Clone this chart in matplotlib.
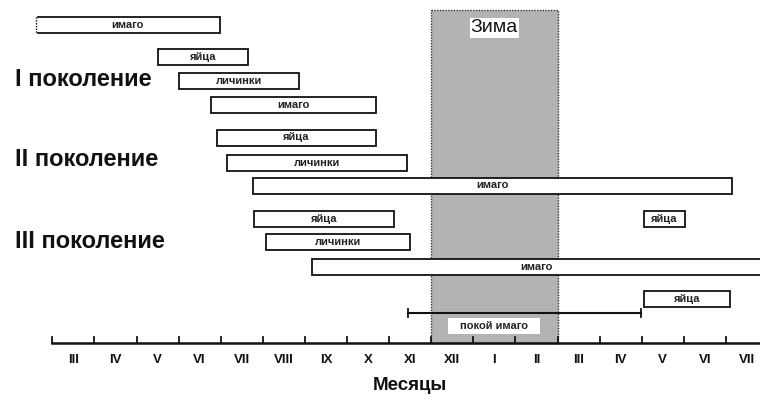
import matplotlib
matplotlib.use("Agg")
import matplotlib.pyplot as plt
from matplotlib.patches import Rectangle

plt.rcParams['font.family'] = ['Liberation Sans', 'DejaVu Sans']

# Month tick labels (III of year 1 ... VII of year 2)
months = ["III", "IV", "V", "VI", "VII", "VIII", "IX", "X", "XI",
          "XII", "I", "II", "III", "IV", "V", "VI", "VII"]

# Bars: label, start, end (in months from 1 March), row index
bar_labels = ["имаго", "яйца", "личинки", "имаго",
              "яйца", "личинки", "имаго",
              "яйца", "личинки", "имаго",
              "яйца", "яйца"]
bar_start = [-0.39, 2.51, 3.01, 3.77,
             3.91, 4.15, 4.77,
             4.79, 5.08, 6.17,
             14.05, 14.05]
bar_end = [3.98, 4.65, 5.87, 7.69,
           7.69, 8.42, 16.14,
           8.12, 8.50, 17.3,
           15.02, 16.10]
bar_row = [0, 1, 2, 3, 4, 5, 6, 7, 8, 9, 7, 10]

generations = ["I поколение", "II поколение", "III поколение"]
winter = (9, 12)
rest_label = "покой имаго"
rest_span = (8.45, 13.98)

# layout (pixel rows)
row_y = [24.5, 56.5, 81, 105, 137.5, 163, 185.5, 218.5, 242, 266.5, 298.5]
bar_h = 16
gen_y = [80, 160, 242]
x0_px, dx_px = 52.3, 42.1
W, H = 760, 396

fig = plt.figure(figsize=(W / 100, H / 100), dpi=100)
ax = fig.add_axes([0, 0, 1, 1])
ax.set_xlim(-x0_px / dx_px, (W - x0_px) / dx_px)
ax.set_ylim(H, 0)
ax.axis('off')

axis_y = 343
# winter region
ax.add_patch(Rectangle((winter[0], 10), winter[1] - winter[0], axis_y - 10,
                       facecolor='#b3b3b3', edgecolor='#333333', lw=1.0,
                       linestyle=(0, (1, 1)), zorder=1))
ax.text((winter[0] + winter[1]) / 2, 28, "Зима", ha='center', va='center',
        fontsize=14, color='#111111', zorder=5,
        bbox=dict(facecolor='white', edgecolor='none', pad=0.8))

# bars
for lab, s, e, r in zip(bar_labels, bar_start, bar_end, bar_row):
    y = row_y[r]
    ax.add_patch(Rectangle((s, y - bar_h / 2), e - s, bar_h, facecolor='white',
                           edgecolor='#111111', lw=1.3, zorder=3))
    xe = min(e, ax.get_xlim()[1])
    ax.text((s + xe) / 2, y, lab, ha='center', va='center', fontsize=8,
            fontweight='bold', color='#222222', zorder=4)

# dotted left edge of first bar (continuing from previous year)
ax.plot([bar_start[0], bar_start[0]], [row_y[0] - bar_h / 2, row_y[0] + bar_h / 2],
        color='white', lw=1.6, zorder=3.5)
ax.plot([bar_start[0], bar_start[0]], [row_y[0] - bar_h / 2, row_y[0] + bar_h / 2],
        color='#111111', lw=1.0, linestyle=(0, (1, 1)), zorder=3.6)

# rest period line
ry = 313
ax.plot(rest_span, [ry, ry], color='#111111', lw=1.5, zorder=4)
for xv in rest_span:
    ax.plot([xv, xv], [ry - 4, ry + 4], color='#111111', lw=1.3, zorder=4)
bx0, bx1 = (448 - x0_px) / dx_px, (540 - x0_px) / dx_px
ax.add_patch(Rectangle((bx0, 318), bx1 - bx0, 16, facecolor='white',
                       edgecolor='none', zorder=4.5))
ax.text((bx0 + bx1) / 2, 326, rest_label, ha='center', va='center',
        fontsize=8, fontweight='bold', color='#222222', zorder=5)

# generation labels
for g, gy in zip(generations, gen_y):
    ax.text(15 / dx_px - x0_px / dx_px, gy, g, ha='left', va='center',
            fontsize=17, fontweight='bold', color='#111111')

# month axis
ax.plot([0, ax.get_xlim()[1]], [axis_y, axis_y], color='#111111', lw=1.8, zorder=4)
for k in range(len(months)):
    ax.plot([k, k], [axis_y, axis_y - 6], color='#111111', lw=1.3, zorder=4)
for k, m in enumerate(months):
    ax.text(k + 0.5, 360, m, ha='center', va='center', fontsize=9.5,
            fontweight='bold', color='#111111')

ax.text((410 - x0_px) / dx_px, 385, "Месяцы", ha='center', va='center',
        fontsize=13.5, fontweight='bold', color='#111111')

fig.savefig("out.png", dpi=100)
